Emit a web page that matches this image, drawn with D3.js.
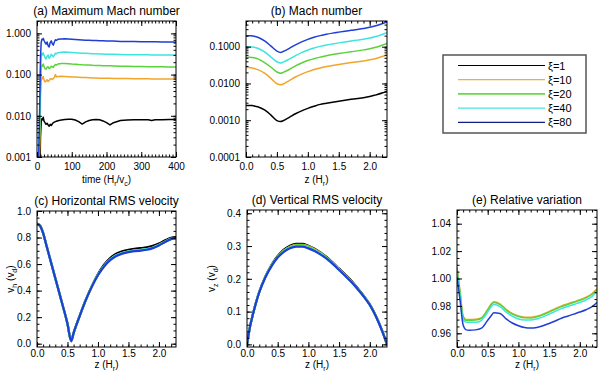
<!DOCTYPE html>
<html>
<head>
<meta charset="utf-8">
<script src="https://cdn.jsdelivr.net/npm/d3@7"></script>
<style>
  body { margin: 0; background: #fff; }
  svg text { font-family: "Liberation Sans", Arial, Helvetica, sans-serif; fill: #000; }
</style>
</head>
<body>
<div id="chart"></div>
<script>
// series names and colours (black -> blue = xi 1 .. 80)
const seriesNames = ["ξ=1", "ξ=10", "ξ=20", "ξ=40", "ξ=80"];
const lineColors = ["#000000", "#f2a52a", "#5cd23a", "#3ee4e0", "#1e3ed6"];
const legendColors = ["#000000", "#f2b030", "#68d84a", "#48e4e0", "#0c1c84"];

// (a) maximum Mach number vs time
const timeA = [0, 8, 10, 12, 14, 16, 18, 20, 23, 26, 29, 32, 35, 38, 41, 44, 47, 50, 53, 56, 60,
  70, 80, 90, 100, 110, 120, 130, 140, 150, 160, 170, 180, 190, 200, 210, 220,
  240, 260, 280, 300, 320, 330, 340, 360, 380, 400];
const maxMach1 = [1e-6, 0.0002, 0.003, 0.007, 0.0085, 0.008, 0.0092, 0.0075, 0.0068, 0.0062, 0.0066, 0.006, 0.0056, 0.0062, 0.0058, 0.0064, 0.0068, 0.007, 0.0072, 0.0074, 0.0076,
  0.0079, 0.0081, 0.0082, 0.0082, 0.0079, 0.0072, 0.0063, 0.0071, 0.0077, 0.008, 0.0081, 0.008, 0.0075, 0.0068, 0.006, 0.0068,
  0.0077, 0.0079, 0.008, 0.008, 0.008, 0.0077, 0.008, 0.008, 0.0081, 0.0081];
const maxMach10 = [1e-5, 0.002, 0.03, 0.07, 0.085, 0.08, 0.09, 0.075, 0.066, 0.07, 0.075, 0.068, 0.072, 0.078, 0.08, 0.076, 0.08, 0.085, 0.1, 0.088, 0.09,
  0.091, 0.09, 0.089, 0.088, 0.087, 0.086, 0.085, 0.085, 0.084, 0.083, 0.083, 0.082, 0.082, 0.081, 0.081, 0.08,
  0.08, 0.08, 0.079, 0.079, 0.079, 0.078, 0.078, 0.078, 0.078, 0.078];
const maxMach20 = [1e-5, 0.005, 0.06, 0.14, 0.17, 0.16, 0.18, 0.16, 0.14, 0.135, 0.15, 0.155, 0.14, 0.145, 0.16, 0.155, 0.15, 0.165, 0.175, 0.17, 0.18,
  0.185, 0.185, 0.183, 0.18, 0.178, 0.175, 0.173, 0.172, 0.17, 0.168, 0.167, 0.166, 0.165, 0.164, 0.163, 0.162,
  0.16, 0.159, 0.158, 0.157, 0.156, 0.156, 0.155, 0.155, 0.154, 0.154];
const maxMach40 = [1e-5, 0.01, 0.12, 0.28, 0.33, 0.3, 0.34, 0.3, 0.26, 0.24, 0.28, 0.3, 0.25, 0.27, 0.31, 0.29, 0.27, 0.3, 0.33, 0.32, 0.34,
  0.35, 0.355, 0.35, 0.345, 0.34, 0.335, 0.33, 0.33, 0.325, 0.32, 0.32, 0.318, 0.315, 0.313, 0.31, 0.31,
  0.308, 0.305, 0.305, 0.303, 0.302, 0.3, 0.3, 0.3, 0.298, 0.297];
const maxMach80 = [1e-5, 0.02, 0.25, 0.6, 0.72, 0.7, 0.76, 0.68, 0.6, 0.55, 0.62, 0.5, 0.47, 0.6, 0.66, 0.56, 0.52, 0.62, 0.7, 0.68, 0.72,
  0.73, 0.74, 0.73, 0.72, 0.71, 0.7, 0.69, 0.68, 0.68, 0.67, 0.67, 0.66, 0.66, 0.65, 0.65, 0.65,
  0.64, 0.64, 0.64, 0.63, 0.63, 0.63, 0.63, 0.62, 0.62, 0.62];

// height grid for the profile panels (b)-(e)
const zGrid = [0, 0.05, 0.1, 0.15, 0.2, 0.3, 0.4, 0.5, 0.56, 0.6, 0.7, 0.8, 0.9, 1.0, 1.1, 1.2, 1.3, 1.4, 1.5, 1.6, 1.7, 1.8, 1.9, 2.0, 2.1, 2.2, 2.28];

// (b) Mach number profiles
const mach1 = [0.0025, 0.0025, 0.0025, 0.0024, 0.0023, 0.0019, 0.0014, 0.00098, 0.00092, 0.00097, 0.0012, 0.0015, 0.0018, 0.0021, 0.0024, 0.0027, 0.0029, 0.0031, 0.0033, 0.0035, 0.0037, 0.0039, 0.0041, 0.0044, 0.0049, 0.0055, 0.0062];
const mach10 = [0.027, 0.027, 0.0265, 0.025, 0.0235, 0.019, 0.014, 0.0098, 0.0092, 0.0097, 0.012, 0.015, 0.018, 0.021, 0.024, 0.0265, 0.029, 0.031, 0.033, 0.035, 0.037, 0.039, 0.041, 0.044, 0.048, 0.054, 0.06];
const mach20 = [0.052, 0.052, 0.051, 0.049, 0.046, 0.037, 0.028, 0.0205, 0.019, 0.02, 0.024, 0.03, 0.036, 0.042, 0.047, 0.052, 0.057, 0.061, 0.065, 0.069, 0.073, 0.077, 0.082, 0.088, 0.097, 0.11, 0.123];
const mach40 = [0.1, 0.1, 0.098, 0.095, 0.089, 0.072, 0.053, 0.039, 0.036, 0.038, 0.046, 0.057, 0.069, 0.081, 0.092, 0.102, 0.111, 0.119, 0.127, 0.135, 0.143, 0.151, 0.16, 0.172, 0.19, 0.215, 0.24];
const mach80 = [0.2, 0.2, 0.196, 0.19, 0.178, 0.144, 0.105, 0.076, 0.07, 0.074, 0.09, 0.112, 0.135, 0.158, 0.18, 0.2, 0.218, 0.234, 0.249, 0.264, 0.279, 0.295, 0.313, 0.336, 0.37, 0.42, 0.47];

// (c) horizontal rms velocity
const vh1 = [0.905, 0.89, 0.835, 0.75, 0.665, 0.495, 0.325, 0.15, 0.02, 0.08, 0.21, 0.33, 0.435, 0.525, 0.595, 0.645, 0.678, 0.697, 0.708, 0.715, 0.72, 0.726, 0.737, 0.755, 0.779, 0.798, 0.803];
const vh10 = [0.904, 0.889, 0.834, 0.749, 0.664, 0.494, 0.324, 0.15, 0.02, 0.08, 0.209, 0.329, 0.431, 0.518, 0.585, 0.633, 0.665, 0.683, 0.694, 0.701, 0.706, 0.712, 0.723, 0.743, 0.768, 0.79, 0.795];
const vh20 = [0.904, 0.889, 0.834, 0.749, 0.664, 0.494, 0.324, 0.15, 0.02, 0.08, 0.209, 0.329, 0.431, 0.518, 0.585, 0.633, 0.665, 0.683, 0.694, 0.701, 0.706, 0.712, 0.723, 0.743, 0.768, 0.79, 0.795];
const vh40 = [0.904, 0.889, 0.834, 0.749, 0.664, 0.494, 0.324, 0.15, 0.02, 0.08, 0.209, 0.329, 0.432, 0.519, 0.586, 0.634, 0.666, 0.684, 0.695, 0.702, 0.707, 0.713, 0.724, 0.744, 0.769, 0.791, 0.796];
const vh80 = [0.903, 0.888, 0.833, 0.748, 0.663, 0.493, 0.323, 0.15, 0.02, 0.08, 0.208, 0.328, 0.43, 0.516, 0.582, 0.63, 0.661, 0.679, 0.69, 0.697, 0.702, 0.708, 0.72, 0.74, 0.766, 0.788, 0.793];

// (d) vertical rms velocity
const vz1 = [0, 0.055, 0.095, 0.13, 0.16, 0.207, 0.243, 0.27, 0.282, 0.289, 0.301, 0.307, 0.307, 0.301, 0.292, 0.28, 0.266, 0.249, 0.231, 0.213, 0.194, 0.172, 0.149, 0.122, 0.087, 0.042, 0];
const vz10 = [0, 0.055, 0.095, 0.13, 0.16, 0.206, 0.241, 0.267, 0.279, 0.286, 0.298, 0.304, 0.304, 0.299, 0.29, 0.278, 0.264, 0.247, 0.229, 0.211, 0.192, 0.17, 0.147, 0.121, 0.086, 0.042, 0];
const vz20 = [0, 0.055, 0.095, 0.13, 0.16, 0.206, 0.241, 0.267, 0.279, 0.286, 0.297, 0.303, 0.303, 0.298, 0.289, 0.278, 0.264, 0.247, 0.229, 0.211, 0.192, 0.17, 0.147, 0.121, 0.086, 0.042, 0];
const vz40 = [0, 0.055, 0.095, 0.13, 0.16, 0.206, 0.24, 0.266, 0.277, 0.284, 0.295, 0.3, 0.3, 0.295, 0.287, 0.276, 0.262, 0.246, 0.228, 0.21, 0.191, 0.17, 0.147, 0.12, 0.086, 0.042, 0];
const vz80 = [0, 0.055, 0.094, 0.129, 0.159, 0.205, 0.239, 0.265, 0.276, 0.282, 0.293, 0.298, 0.298, 0.293, 0.285, 0.274, 0.261, 0.245, 0.227, 0.209, 0.19, 0.169, 0.146, 0.12, 0.085, 0.041, 0];

// (e) relative variation (xi=1 is the reference, so no black curve)
const rel10 = [1.008, 0.9905, 0.9725, 0.97, 0.97, 0.9702, 0.9715, 0.9775, 0.9815, 0.983, 0.9815, 0.9775, 0.9745, 0.9727, 0.9718, 0.9717, 0.9725, 0.974, 0.976, 0.978, 0.98, 0.9815, 0.983, 0.9845, 0.9863, 0.989, 0.9925];
const rel20 = [1.008, 0.99, 0.972, 0.9695, 0.9695, 0.9697, 0.971, 0.977, 0.981, 0.9825, 0.981, 0.977, 0.974, 0.9722, 0.9713, 0.9712, 0.972, 0.9735, 0.9755, 0.9775, 0.9795, 0.981, 0.9825, 0.984, 0.9858, 0.9885, 0.992];
const rel40 = [1.005, 0.987, 0.97, 0.968, 0.968, 0.968, 0.9695, 0.9755, 0.9795, 0.981, 0.9795, 0.9755, 0.9725, 0.9705, 0.9697, 0.9697, 0.9705, 0.972, 0.974, 0.976, 0.978, 0.9795, 0.981, 0.9825, 0.9843, 0.987, 0.9905];
const rel80 = [1.001, 0.984, 0.966, 0.9625, 0.9623, 0.9625, 0.9638, 0.9695, 0.973, 0.975, 0.9745, 0.9705, 0.9675, 0.9655, 0.9642, 0.9638, 0.9643, 0.9655, 0.9672, 0.969, 0.971, 0.9725, 0.974, 0.9755, 0.9772, 0.9795, 0.9825];

// tick labels
const timeTicks = [0, 100, 200, 300, 400];
const zTicks = [0, 0.5, 1.0, 1.5, 2.0];
const maxMachTicks = [0.001, 0.01, 0.1, 1];
const maxMachLabels = ["0.001", "0.010", "0.100", "1.000"];
const machTicks = [0.0001, 0.001, 0.01, 0.1];
const machLabels = ["0.0001", "0.0010", "0.0100", "0.1000"];
const vhTicks = [0, 0.2, 0.4, 0.6, 0.8, 1.0];
const vzTicks = [0, 0.1, 0.2, 0.3, 0.4];
const relTicks = [0.96, 0.98, 1.00, 1.02, 1.04];

const svg = d3.select("#chart")
  .append("svg")
    .attr("width", 600)
    .attr("height", 375);

function logMinors(lo, hi) {
  const out = [];
  for (let e = Math.floor(Math.log10(lo)); e <= Math.ceil(Math.log10(hi)); e++) {
    for (let m = 1; m < 10; m++) {
      const v = m * Math.pow(10, e);
      if (v >= lo * 0.999 && v <= hi * 1.001) out.push(v);
    }
  }
  return out;
}

// small helper for text with subscripts: parts = [[text, isSub], ...]
function richText(sel, parts, size) {
  parts.forEach(([t, sub], i) => {
    const prevSub = i > 0 && parts[i - 1][1];
    sel.append("tspan")
      .attr("font-size", sub ? size * 0.7 : size)
      .attr("dy", sub ? 2.5 : (prevSub ? -2.5 : 0))
      .text(t);
  });
}

function styleAxis(g) {
  g.attr("font-family", null).attr("font-size", 10);
  g.select(".domain").remove();
  g.selectAll("line").attr("stroke", "#000");
}

function drawPanel(p) {
  const g = svg.append("g").attr("transform", `translate(${p.left},${p.top})`);
  const x = d3.scaleLinear().domain(p.xDomain).range([0, p.width]);
  const y = (p.log ? d3.scaleLog() : d3.scaleLinear()).domain(p.yDomain).range([p.height, 0]);

  g.append("clipPath").attr("id", "clip-" + p.id)
    .append("rect").attr("width", p.width).attr("height", p.height);

  const line = d3.line()
    .x(d => x(d[0]))
    .y(d => y(d[1]))
    .curve(p.curve);

  p.series.forEach((vals, i) => {
    if (!vals) return;
    g.append("path")
      .datum(p.xs.map((xv, j) => [xv, vals[j]]))
      .attr("clip-path", `url(#clip-${p.id})`)
      .attr("fill", "none")
      .attr("stroke", lineColors[i])
      .attr("stroke-width", p.lineWidth)
      .attr("stroke-linejoin", "round")
      .attr("d", line);
  });

  // minor ticks on all four sides
  const xMin = d3.range(p.xDomain[0], p.xDomain[1] + 1e-9, p.xMinor);
  const yMin = p.log ? logMinors(p.yDomain[0], p.yDomain[1])
    : d3.range(Math.ceil(p.yDomain[0] / p.yMinor) * p.yMinor, p.yDomain[1] + 1e-9, p.yMinor);
  [[d3.axisBottom(x), p.height, xMin], [d3.axisTop(x), 0, xMin]].forEach(([ax, ty, vals]) => {
    g.append("g").attr("transform", `translate(0,${ty})`)
      .call(ax.tickValues(vals).tickSize(-2.5).tickFormat(""))
      .call(styleAxis);
  });
  [[d3.axisLeft(y), 0, yMin], [d3.axisRight(y), p.width, yMin]].forEach(([ax, tx, vals]) => {
    g.append("g").attr("transform", `translate(${tx},0)`)
      .call(ax.tickValues(vals).tickSize(-2.5).tickFormat(""))
      .call(styleAxis);
  });

  // major ticks with labels
  g.append("g").attr("transform", `translate(0,${p.height})`)
    .call(d3.axisBottom(x).tickValues(p.xTicks).tickSize(-5).tickPadding(p.xPad).tickFormat(p.xFormat))
    .call(styleAxis);
  g.append("g")
    .call(d3.axisTop(x).tickValues(p.xTicks).tickSize(-5).tickFormat(""))
    .call(styleAxis);
  g.append("g")
    .call(d3.axisLeft(y).tickValues(p.yTicks).tickSize(-5).tickPadding(6).tickFormat(p.yFormat))
    .call(styleAxis);
  g.append("g").attr("transform", `translate(${p.width},0)`)
    .call(d3.axisRight(y).tickValues(p.yTicks).tickSize(-5).tickFormat(""))
    .call(styleAxis);

  g.append("rect")
    .attr("width", p.width).attr("height", p.height)
    .attr("fill", "none").attr("stroke", "#000").attr("stroke-width", 1);

  g.append("text")
    .attr("x", p.width / 2).attr("y", -6)
    .attr("text-anchor", "middle").attr("font-size", 12)
    .text(p.title);

  richText(g.append("text")
    .attr("x", p.width / 2).attr("y", p.height + p.xLabelY)
    .attr("text-anchor", "middle"), p.xLabel, 10);

  if (p.yLabel) {
    richText(g.append("text")
      .attr("text-anchor", "middle")
      .attr("transform", `translate(${p.yLabelX},${p.height / 2}) rotate(-90)`), p.yLabel, 10);
  }
}

const zFormat = d3.format(".1f");
const zLabel = [["z (H"], ["r", true], [")"]];

drawPanel({
  id: "a", left: 37, top: 21, width: 139, height: 136,
  xs: timeA, series: [maxMach1, maxMach10, maxMach20, maxMach40, maxMach80],
  xDomain: [0, 400], yDomain: [0.001, 2], log: true,
  xTicks: timeTicks, xMinor: 10, xFormat: d3.format("d"), xPad: 6, xLabelY: 26,
  yTicks: maxMachTicks, yFormat: (d, i) => maxMachLabels[i],
  curve: d3.curveLinear, lineWidth: 1.5,
  title: "(a) Maximum Mach number",
  xLabel: [["time (H"], ["r", true], ["/v"], ["c", true], [")"]]
});

drawPanel({
  id: "b", left: 246, top: 21, width: 141, height: 136,
  xs: zGrid, series: [mach1, mach10, mach20, mach40, mach80],
  xDomain: [0, 2.28], yDomain: [0.0001, 0.5], log: true,
  xTicks: zTicks, xMinor: 0.1, xFormat: zFormat, xPad: 6, xLabelY: 26,
  yTicks: machTicks, yFormat: (d, i) => machLabels[i],
  curve: d3.curveMonotoneX, lineWidth: 1.5,
  title: "(b) Mach number", xLabel: zLabel
});

drawPanel({
  id: "c", left: 37, top: 211, width: 139, height: 136,
  xs: zGrid, series: [vh1, vh10, vh20, vh40, vh80],
  xDomain: [0, 2.28], yDomain: [-0.025, 1.0],
  xTicks: zTicks, xMinor: 0.1, xFormat: zFormat, xPad: 3, xLabelY: 21,
  yTicks: vhTicks, yMinor: 0.05, yFormat: d3.format(".1f"),
  curve: d3.curveMonotoneX, lineWidth: 2.2,
  title: "(c) Horizontal RMS velocity", xLabel: zLabel,
  yLabel: [["v"], ["h", true], [" (v"], ["d", true], [")"]], yLabelX: -23
});

drawPanel({
  id: "d", left: 247, top: 210, width: 140, height: 137,
  xs: zGrid, series: [vz1, vz10, vz20, vz40, vz80],
  xDomain: [0, 2.28], yDomain: [-0.008, 0.41],
  xTicks: zTicks, xMinor: 0.1, xFormat: zFormat, xPad: 3, xLabelY: 21,
  yTicks: vzTicks, yMinor: 0.02, yFormat: d3.format(".1f"),
  curve: d3.curveMonotoneX, lineWidth: 2.2,
  title: "(d) Vertical RMS velocity", xLabel: zLabel,
  yLabel: [["v"], ["z", true], [" (v"], ["d", true], [")"]], yLabelX: -32
});

drawPanel({
  id: "e", left: 457, top: 210, width: 140, height: 137,
  xs: zGrid, series: [null, rel10, rel20, rel40, rel80],
  xDomain: [0, 2.28], yDomain: [0.95, 1.05],
  xTicks: zTicks, xMinor: 0.1, xFormat: zFormat, xPad: 3, xLabelY: 21,
  yTicks: relTicks, yMinor: 0.005, yFormat: d3.format(".2f"),
  curve: d3.curveMonotoneX, lineWidth: 1.5,
  title: "(e) Relative variation", xLabel: zLabel
});

// legend
const legend = svg.append("g").attr("transform", "translate(443,55)");
legend.append("rect")
  .attr("width", 143).attr("height", 78)
  .attr("fill", "none").attr("stroke", "#555").attr("stroke-width", 1.5);
seriesNames.forEach((name, i) => {
  const ly = 10.5 + i * 14.2;
  legend.append("line")
    .attr("x1", 15).attr("x2", 102).attr("y1", ly).attr("y2", ly)
    .attr("stroke", legendColors[i]).attr("stroke-width", i === 2 ? 1.6 : 1.2);
  legend.append("text")
    .attr("x", 105).attr("y", ly + 4)
    .attr("font-size", 11)
    .text(name);
});
</script>
</body>
</html>
